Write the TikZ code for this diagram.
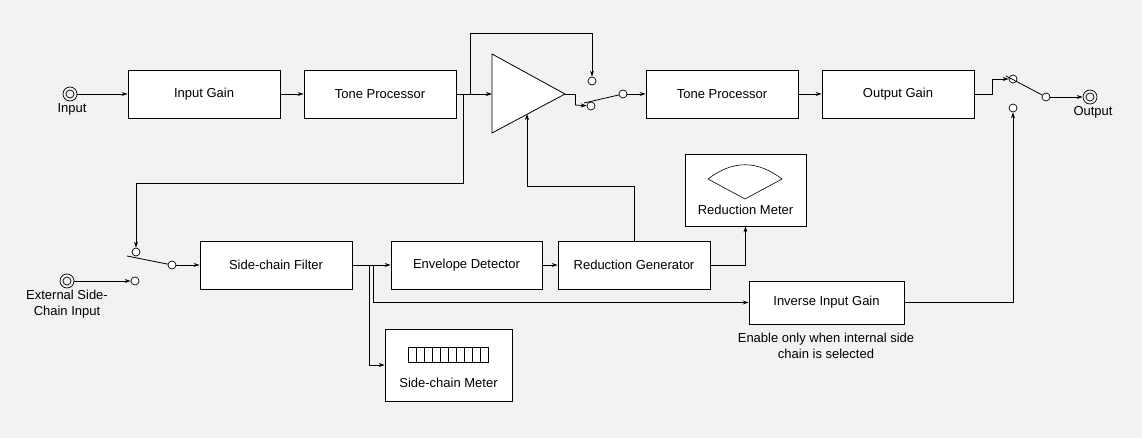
\documentclass[tikz,border=0pt]{standalone}
\usepackage{fontspec}
\setmainfont{Liberation Sans}
\usetikzlibrary{arrows.meta}
\begin{document}
\begin{tikzpicture}[x=1pt,y=-1pt,font=\fontsize{13}{15}\selectfont,
  box/.style={draw,fill=white,line width=0.8pt,minimum width=152pt,minimum height=48pt,inner sep=0pt},
  sw/.style={circle,draw,fill=white,line width=0.7pt,minimum size=8pt,inner sep=0pt},
  ln/.style={line width=0.8pt},
  ar/.style={line width=0.8pt,-{Stealth[length=6pt,width=4pt]}}]
\fill[gray!10] (0,0) rectangle (1142,438);
\useasboundingbox (0,0) rectangle (1142,438);
% jacks
\node[circle,draw,line width=0.7pt,minimum size=14pt,inner sep=0pt] (inj) at (70,94) {};
\draw[line width=0.7pt] (70,94) circle (4);
\node at (72,109) {Input};
\node[circle,draw,line width=0.7pt,minimum size=14pt,inner sep=0pt] (extj) at (67,281) {};
\draw[line width=0.7pt] (67,281) circle (4);
\node[align=center,font=\fontsize{13}{16}\selectfont] at (67,304) {External Side-\\Chain Input};
\node[circle,draw,line width=0.7pt,minimum size=14pt,inner sep=0pt] (outj) at (1090,97) {};
\draw[line width=0.7pt] (1090,97) circle (4);
\node at (1093,112) {Output};
% boxes
\node[box] (ig) at (204,94) {Input Gain};
\node[box] (tp1) at (380,94) {Tone Processor};
\node[box] (tp2) at (722,94) {Tone Processor};
\node[box] (og) at (898,94) {Output Gain};
\node[box] (scf) at (276,265) {Side-chain Filter};
\node[box,minimum width=151pt] (env) at (466.5,265) {Envelope Detector};
\node[box] (rg) at (634,265) {Reduction Generator};
\node[box,minimum width=155pt,minimum height=43pt] (iig) at (826.5,302.5) {Inverse Input Gain};
\node[draw,fill=white,line width=0.8pt,minimum width=121pt,minimum height=72pt,inner sep=0pt] (rm) at (745.5,190) {};
\node at (745.5,210) {Reduction Meter};
\node[draw,fill=white,line width=0.8pt,minimum width=127pt,minimum height=72pt,inner sep=0pt] (scm) at (448.5,365) {};
\node at (448.5,383) {Side-chain Meter};
\node[align=center,font=\fontsize{13}{16}\selectfont] at (826,346) {Enable only when internal side\\chain is selected};
% meter graphics
\draw[line width=0.6pt] (408,347) rectangle (488,362);
\foreach \i in {1,...,9} \draw[line width=0.6pt] (408+8*\i,347) -- (408+8*\i,362);
\draw[line width=0.6pt] (745,199) -- (708,179) .. controls (733,160) and (757,160) .. (782,179) -- cycle;
% amplifier
\draw[fill=white,line width=0.8pt] (492,54) coordinate (amptop) -- (565,94) coordinate (amptip) -- (492,133) -- cycle;
\coordinate (ampin) at (492,94);
\coordinate (ampctl) at (527,114);
% switch circles
\node[sw] (s1a) at (592,81) {};
\node[sw] (s1b) at (591,106) {};
\node[sw] (s1c) at (623,94) {};
\node[sw] (s2a) at (1013,79) {};
\node[sw] (s2b) at (1013,108) {};
\node[sw] (s2c) at (1046,97) {};
\node[sw] (s3a) at (136,252) {};
\node[sw] (s3b) at (135,281) {};
\node[sw] (s3c) at (172,265) {};
% connections
\draw[ar] (inj) -- (ig);
\draw[ar] (ig) -- (tp1);
\draw[ar] (tp1) -- (ampin);
\draw[ar] (470,94) -- (470,33) -| (s1a);
\draw[ln] (amptip) -- (575,94) -- (575,105);
\draw[ar] (575,105) -- (s1b);
\draw[ln] (584,103) -- (s1c);
\draw[ar] (s1c) -- (tp2);
\draw[ar] (tp2) -- (og);
\draw[ln] (og.east) -- (992,94) -- (992,79);
\draw[ar] (992,79) -- (s2a);
\draw[ln] (1006,76) -- (s2c);
\draw[ar] (s2c) -- (outj);
\draw[ar] (iig) -| (s2b);
\draw[ar] (463,94) -- (463,183) -| (s3a);
\draw[ln] (127,256) -- (s3c);
\draw[ar] (s3c) -- (scf);
\draw[ar] (extj) -- (s3b);
\draw[ar] (scf) -- (env);
\draw[ar] (env) -- (rg);
\draw[ar] (rg.north) -- (634,186) -| (ampctl);
\draw[ar] (rg.east) -| (rm.south);
\draw[ar] (373,265) |- (iig.west);
\draw[ar] (369,265) |- (scm.west);
\end{tikzpicture}
\end{document}
